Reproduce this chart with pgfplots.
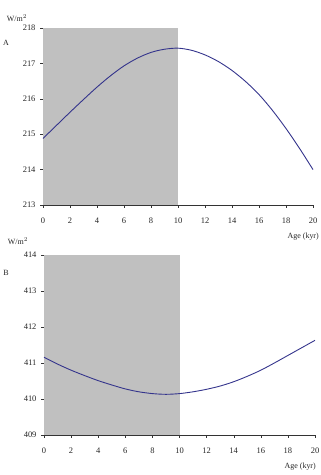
\documentclass[border=0pt]{standalone}
\usepackage{pgfplots}
\pgfplotsset{compat=1.18}
\usepackage{fontspec}
\setmainfont{Liberation Serif}
\definecolor{shade}{HTML}{C0C0C0}
\definecolor{curve}{HTML}{34348C}
\pgfplotsset{
  panel/.style={
    scale only axis,
    xmin=0, xmax=20,
    axis x line*=bottom, axis y line*=left,
    xtick={0,2,...,20},
    tick align=outside,
    major tick length=3bp,
    tick style={black!80, thin},
    axis line style={black!80, thin},
    ticklabel style={font=\fontsize{8.5}{9}\selectfont, text=black!85},
    /pgf/number format/assume math mode=true,
    xticklabel style={yshift=-6bp},
    yticklabel style={xshift=-1bp},
    clip=false,
  }
}
\begin{document}
\begin{tikzpicture}[x=1bp,y=1bp]
\useasboundingbox (0,0) rectangle (320,475);
\begin{axis}[panel, at={(43bp,270bp)}, anchor=south west,
  width=270bp, height=177bp, ymin=213, ymax=218, ytick={213,...,218}]
\addplot[fill=shade, draw=none] coordinates {(0,213) (10,213) (10,218) (0,218)} -- cycle;
\addplot[curve, line width=0.9pt, smooth] coordinates {
(0,214.88) (1,215.25) (2,215.62) (3,215.98) (4,216.33) (5,216.65) (6,216.93)
(7,217.15) (8,217.31) (9,217.40) (10,217.43) (11,217.37) (12,217.24) (13,217.05)
(14,216.80) (15,216.49) (16,216.12) (17,215.67) (18,215.16) (19,214.60) (20,214.00)};
\end{axis}
\begin{axis}[panel, at={(44bp,40bp)}, anchor=south west,
  width=271bp, height=180bp, ymin=409, ymax=414, ytick={409,...,414}]
\addplot[fill=shade, draw=none] coordinates {(0,409) (10,409) (10,414) (0,414)} -- cycle;
\addplot[curve, line width=0.9pt, smooth] coordinates {
(0,411.16) (1,410.97) (2,410.80) (3,410.65) (4,410.51) (5,410.39) (6,410.28)
(7,410.20) (8,410.15) (9,410.13) (10,410.15) (11,410.20) (12,410.27) (13,410.36)
(14,410.48) (15,410.63) (16,410.80) (17,411.00) (18,411.21) (19,411.42) (20,411.63)};
\end{axis}
\begin{scope}[every node/.style={font=\fontsize{8}{9}\selectfont, text=black!85, inner sep=0pt}]
\node at (17,457) {W/m$^2$};
\node at (6,432) {A};
\node at (18,234) {W/m$^2$};
\node at (6,202) {B};
\node[anchor=east] at (319,238) {Age (kyr)};
\node[anchor=east] at (316,8) {Age (kyr)};
\end{scope}
\end{tikzpicture}
\end{document}
